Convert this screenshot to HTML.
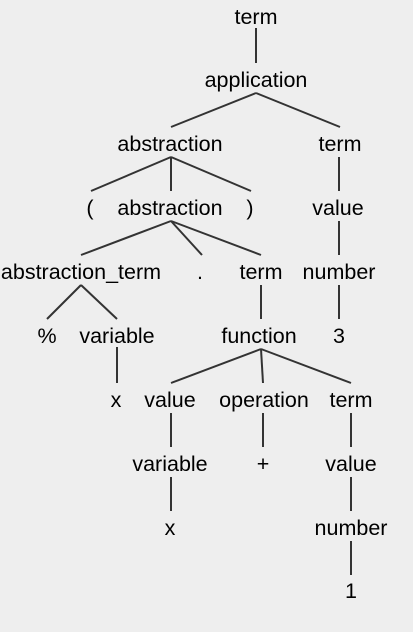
<!DOCTYPE html>
<html><head><style>
html,body{margin:0;padding:0;background:#eeeeee;}
svg{display:block}
text{font-family:"Liberation Sans",Arial,sans-serif;font-size:21.5px;fill:#000;text-anchor:middle}
line{stroke:#333;stroke-width:2}
</style></head><body>
<svg width="413" height="632" viewBox="0 0 413 632">
<rect width="413" height="632" fill="#eeeeee"/>
<g>
<line x1="256" y1="28" x2="256" y2="63"/>
<line x1="256" y1="93" x2="171" y2="127"/>
<line x1="256" y1="93" x2="340" y2="127"/>
<line x1="171" y1="157" x2="91" y2="191"/>
<line x1="171" y1="157" x2="171" y2="191"/>
<line x1="171" y1="157" x2="251" y2="191"/>
<line x1="339" y1="157" x2="339" y2="191"/>
<line x1="171" y1="221" x2="81" y2="255"/>
<line x1="171" y1="221" x2="202" y2="255"/>
<line x1="171" y1="221" x2="261" y2="255"/>
<line x1="339" y1="221" x2="339" y2="255"/>
<line x1="81" y1="285" x2="47" y2="319"/>
<line x1="81" y1="285" x2="117" y2="319"/>
<line x1="261" y1="285" x2="261" y2="319"/>
<line x1="339" y1="285" x2="339" y2="319"/>
<line x1="117" y1="347" x2="117" y2="383"/>
<line x1="261" y1="349" x2="171" y2="383"/>
<line x1="261" y1="349" x2="263" y2="383"/>
<line x1="261" y1="349" x2="351" y2="383"/>
<line x1="171" y1="413" x2="171" y2="447"/>
<line x1="263" y1="413" x2="263" y2="447"/>
<line x1="351" y1="413" x2="351" y2="447"/>
<line x1="171" y1="477" x2="171" y2="511"/>
<line x1="351" y1="477" x2="351" y2="511"/>
<line x1="351" y1="541" x2="351" y2="575"/>
</g>
<text x="256" y="24">term</text>
<text x="256" y="87">application</text>
<text x="170" y="151">abstraction</text>
<text x="340" y="151">term</text>
<text x="90" y="215">(</text>
<text x="170" y="215">abstraction</text>
<text x="250" y="215">)</text>
<text x="338" y="215">value</text>
<text x="81" y="279">abstraction_term</text>
<text x="200" y="279">.</text>
<text x="261" y="279">term</text>
<text x="339" y="279">number</text>
<text x="47" y="343">%</text>
<text x="117" y="343">variable</text>
<text x="259" y="343">function</text>
<text x="339" y="343">3</text>
<text x="116" y="407">x</text>
<text x="170" y="407">value</text>
<text x="264" y="407">operation</text>
<text x="351" y="407">term</text>
<text x="170" y="471">variable</text>
<text x="263" y="471">+</text>
<text x="351" y="471">value</text>
<text x="170" y="535">x</text>
<text x="351" y="535">number</text>
<text x="351" y="598">1</text>
</svg>
</body></html>
